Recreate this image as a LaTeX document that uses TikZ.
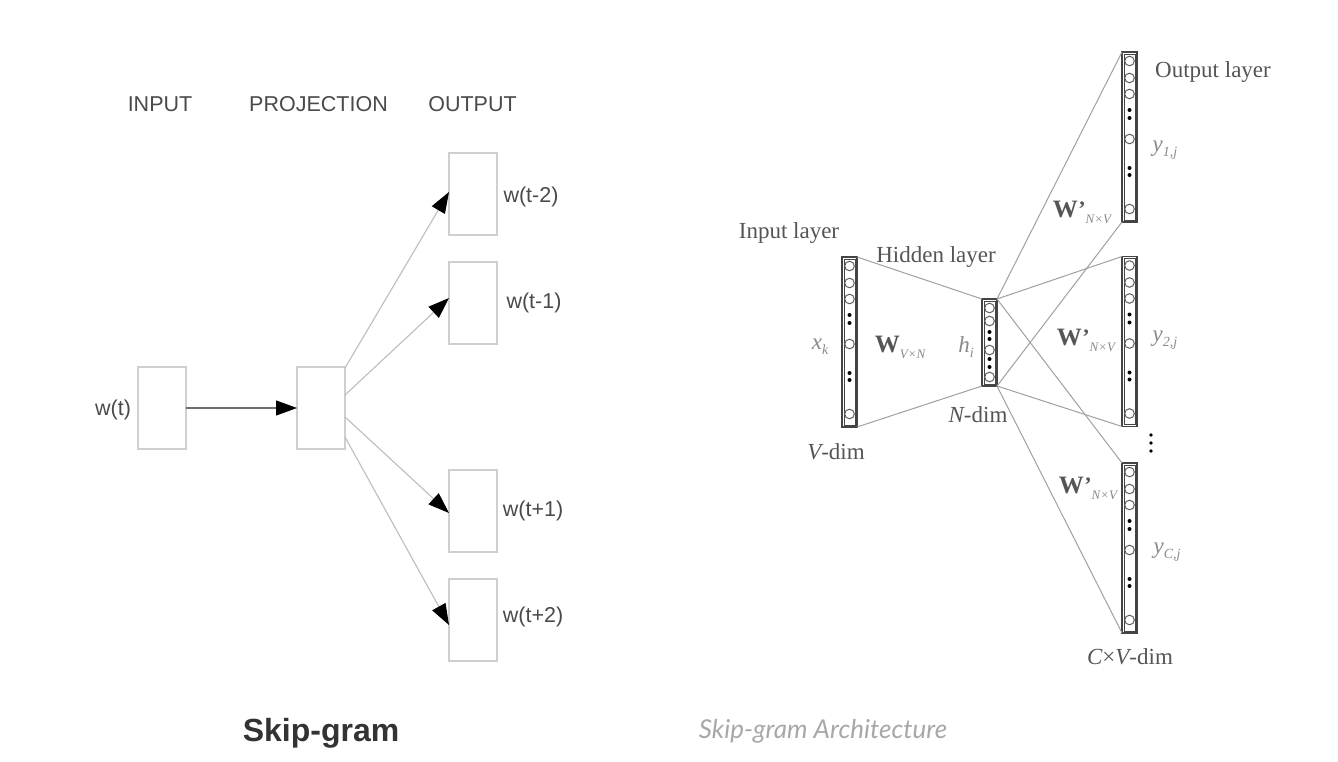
\documentclass[tikz,border=0pt]{standalone}
\usepackage{fontspec}
\setmainfont{Liberation Serif}
\setsansfont{Liberation Sans}
\newfontfamily\capfont{Lato}
\usetikzlibrary{arrows.meta}
\definecolor{boxline}{HTML}{CFCFCF}
\definecolor{arrline}{HTML}{BDBDBD}
\definecolor{sanstext}{HTML}{4A4A4A}
\definecolor{titletext}{HTML}{333333}
\definecolor{captext}{HTML}{A8A8A8}
\definecolor{serifgray}{HTML}{555555}
\definecolor{subgray}{HTML}{8A8A8A}
\definecolor{vecline}{HTML}{444444}
\definecolor{netline}{HTML}{A0A0A0}
\tikzset{
  wbox/.style={draw=boxline, line width=1.4pt, minimum width=48pt, minimum height=82pt, inner sep=0pt, outer sep=0pt},
  slabel/.style={font=\sffamily\fontsize{21.5}{23}\selectfont, text=sanstext, inner sep=0pt},
  garrow/.style={draw=arrline, line width=1.1pt, -{Triangle[length=21pt,width=15pt,color=black]}},
  vecbox/.style={draw=vecline, line width=1.2pt, minimum width=15pt, inner sep=0pt, outer sep=0pt},
  vecinner/.style={draw=vecline, line width=0.6pt},
  rlabel/.style={font=\fontsize{23}{25}\selectfont, text=serifgray, inner sep=0pt},
  netedge/.style={draw=netline, line width=1pt},
  unit/.style={draw=vecline!85, line width=1pt},
}
\newcommand{\Wsub}[1]{{\bfseries\fontsize{25}{25}\selectfont W}{\color{subgray}\raisebox{-6pt}{\fontsize{13}{13}\selectfont\itshape #1}}}
\newcommand{\Wpsub}[1]{{\bfseries\fontsize{25}{25}\selectfont W\kern0.5pt\raisebox{1pt}{\fontsize{22}{22}\selectfont\char"2019}}{\color{subgray}\raisebox{-6pt}{\fontsize{13}{13}\selectfont\itshape #1}}}
\begin{document}
\begin{tikzpicture}[x=1pt,y=-1pt]
\useasboundingbox[fill=white] (0,0) rectangle (1338,762);

% ---------------- left: skip-gram ----------------
\node[slabel] (lin) at (160,104) {INPUT};
\node[slabel] (lproj) at (318.5,104) {PROJECTION};
\node[slabel] (lout) at (472.5,104) {OUTPUT};

\node[wbox] (inbox) at (162,408) {};
\node[wbox] (proj) at (321,408) {};
\node[wbox] (o1) at (473,194) {};
\node[wbox] (o2) at (473,303) {};
\node[wbox] (o3) at (473,511) {};
\node[wbox] (o4) at (473,620) {};

\node[slabel] (lwt) at (113,410) {w(t)};
\node[slabel] (lw1) at (531,197) {w(t-2)};
\node[slabel] (lw2) at (534,303) {w(t-1)};
\node[slabel] (lw3) at (533,511) {w(t+1)};
\node[slabel] (lw4) at (533,617) {w(t+2)};

\draw[garrow, draw=sanstext!80] (inbox.east) -- (proj.west);
\draw[garrow] ([yshift=40pt]proj.east) -- ([yshift=2pt]o1.west);
\draw[garrow] ([yshift=13pt]proj.east) -- ([yshift=5pt]o2.west);
\draw[garrow] ([yshift=-9pt]proj.east) -- ([yshift=-2pt]o3.west);
\draw[garrow] ([yshift=-29pt]proj.east) -- ([yshift=-5pt]o4.west);

\node[font=\sffamily\bfseries\fontsize{32}{34}\selectfont, text=titletext, inner sep=0pt] (ltitle) at (321,733) {Skip-gram};

% ---------------- right: architecture ----------------
\node[vecbox, minimum height=170pt] (vin) at (849.5,342) {};
\node[vecbox, minimum height=87pt] (vh) at (989.5,342.5) {};
\node[vecbox, minimum height=170pt] (vo1) at (1129.5,137) {};
\node[vecbox, minimum height=170pt] (vo2) at (1129.5,341.5) {};
\node[vecbox, minimum height=170pt] (vo3) at (1129.5,548) {};

% inner outlines and units
\foreach \v in {vin,vh,vo1,vo2,vo3}{
  \draw[vecinner] ([xshift=2pt,yshift=-2pt]\v.north west) rectangle ([xshift=-2pt,yshift=2pt]\v.south east);
}
\foreach \v in {vin,vo1,vo2,vo3}{
  \foreach \d in {9,26,42,87,157}{
    \draw[unit] ([yshift=-\d pt]\v.north) circle (4.8pt);
  }
  \foreach \d in {58,66,116,123}{
    \fill[black] ([yshift=-\d pt]\v.north) circle (2pt);
  }
}
\foreach \d in {9,22,51,78}{
  \draw[unit] ([yshift=-\d pt]vh.north) circle (4.8pt);
}
\foreach \d in {33,40,60,68}{
  \fill[black] ([yshift=-\d pt]vh.north) circle (2pt);
}

% connections
\draw[netedge] (vin.north east) -- (vh.north west);
\draw[netedge] (vin.south east) -- (vh.south west);
\foreach \v in {vo1,vo2,vo3}{
  \draw[netedge] (vh.north east) -- (\v.north west);
  \draw[netedge] (vh.south east) -- (\v.south west);
}

% labels
\node[rlabel] (tin) at (789,233) {Input layer};
\node[rlabel] (thid) at (936,257) {Hidden layer};
\node[rlabel] (tout) at (1213,72) {Output layer};
\node[rlabel, text=subgray] (txk) at (820,347) {\itshape x\raisebox{-5pt}{\fontsize{14}{14}\selectfont k}};
\node[rlabel] (twin) at (900,347) {\Wsub{V×N}};
\node[rlabel, text=subgray] (thi) at (966,347) {\itshape h\raisebox{-5pt}{\fontsize{14}{14}\selectfont i}};
\node[rlabel] (tnd) at (978,415) {{\itshape N}-dim};
\node[rlabel] (tvd) at (836,452) {{\itshape V}-dim};
\node[rlabel, text=subgray] (ty1) at (1165,150) {\itshape y\raisebox{-5pt}{\fontsize{14}{14}\selectfont 1,j}};
\node[rlabel, text=subgray] (ty2) at (1165,340) {\itshape y\raisebox{-5pt}{\fontsize{14}{14}\selectfont 2,j}};
\node[rlabel, text=subgray] (tyc) at (1167,552) {\itshape y\raisebox{-5pt}{\fontsize{14}{14}\selectfont C,j}};
\node[rlabel] (tw1) at (1082,212) {\Wpsub{N×V}};
\node[rlabel] (tw2) at (1086,340) {\Wpsub{N×V}};
\node[rlabel] (tw3) at (1088,488) {\Wpsub{N×V}};
\node[rlabel] (tcvd) at (1130,657) {{\itshape C}×{\itshape V}-dim};
\foreach \yy in {435,443,451}{
  \fill[black] (1151,\yy) circle (1.9pt);
}

\node[font=\capfont\itshape\fontsize{26}{28}\selectfont, text=captext, inner sep=0pt] (rtitle) at (823,731) {Skip-gram Architecture};
\end{tikzpicture}
\end{document}
